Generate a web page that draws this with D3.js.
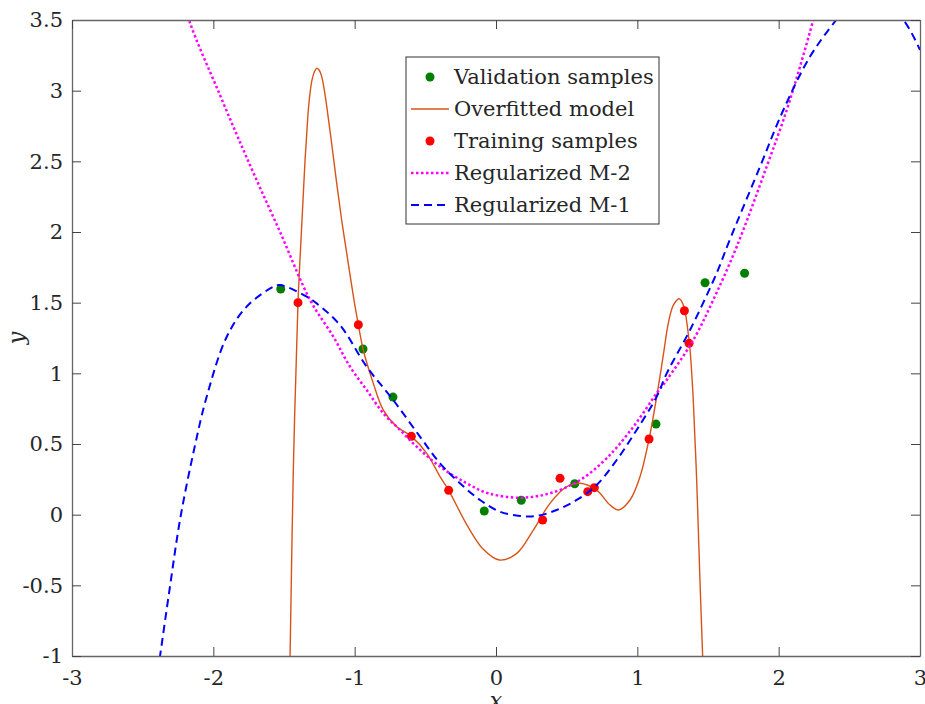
<!DOCTYPE html>
<html>
<head>
<meta charset="utf-8">
<script src="https://cdn.jsdelivr.net/npm/d3@7"></script>
<style>
  body { margin: 0; background: #fff; }
  svg text { font-family: "DejaVu Serif", "Liberation Serif", serif; fill: #262626; }
</style>
</head>
<body>
<svg id="chart" width="925" height="704"></svg>
<script>
// values
const xTicks = [-3, -2, -1, 0, 1, 2, 3];
const yTicks = [-1, -0.5, 0, 0.5, 1, 1.5, 2, 2.5, 3, 3.5];

const valX = [-1.523, -0.941, -0.729, -0.083, 0.179, 0.557, 1.132, 1.479, 1.759];
const valY = [1.597, 1.172, 0.832, 0.026, 0.102, 0.219, 0.641, 1.641, 1.708];

const trainX = [-1.401, -0.974, -0.599, -0.335, 0.330, 0.453, 0.649, 0.696, 1.083, 1.333, 1.366];
const trainY = [1.500, 1.344, 0.554, 0.172, -0.038, 0.257, 0.163, 0.191, 0.535, 1.443, 1.212];

// overfitted model (orange)
const overX = [-1.462, -1.457, -1.434, -1.401, -1.387, -1.375, -1.363, -1.351, -1.339, -1.328, -1.316, -1.302, -1.286,
  -1.269, -1.252, -1.233, -1.215, -1.194, -1.163, -1.127, -1.092, -1.056, -1.005, -0.974, -0.939, -0.868, -0.797,
  -0.702, -0.599, -0.490, -0.396, -0.335, -0.207, -0.090, 0.024, 0.147, 0.264, 0.382, 0.500, 0.594, 0.712, 0.807,
  0.866, 0.948, 1.019, 1.083, 1.137, 1.184, 1.219, 1.255, 1.297, 1.330, 1.354, 1.373, 1.392, 1.408, 1.420, 1.443,
  1.462, 1.466];
const overY = [-1.2, -1.0, 0.316, 1.5, 1.802, 2.037, 2.274, 2.509, 2.698, 2.863, 2.981, 3.075, 3.130,
  3.158, 3.146, 3.099, 3.005, 2.863, 2.628, 2.344, 2.085, 1.849, 1.519, 1.344, 1.165, 0.929, 0.740,
  0.622, 0.554, 0.434, 0.269, 0.172, -0.070, -0.245, -0.321, -0.274, -0.109, 0.080, 0.198, 0.222, 0.174, 0.068,
  0.033, 0.104, 0.269, 0.535, 0.835, 1.13, 1.354, 1.483, 1.528, 1.471, 1.330, 1.165, 0.882, 0.528, 0.245, -0.462,
  -1.0, -1.2];

// regularized M-2 (magenta dotted)
const m2X = [-2.25, -2.172, -1.953, -1.741, -1.528, -1.316, -1.151, -1.033, -0.915, -0.797, -0.679, -0.561, -0.396,
  -0.207, -0.054, 0.170, 0.382, 0.594, 0.783, 0.972, 1.137, 1.208, 1.396, 1.537, 1.703, 1.915, 2.057, 2.151, 2.245, 2.30];
const m2Y = [3.80, 3.5, 2.969, 2.474, 2.0, 1.52, 1.259, 1.047, 0.882, 0.717, 0.599, 0.481, 0.340,
  0.222, 0.151, 0.120, 0.151, 0.245, 0.399, 0.622, 0.859, 0.953, 1.236, 1.519, 1.896, 2.462, 2.863, 3.17, 3.5, 3.7];

// regularized M-1 (blue dashed)
const m1X = [-2.406, -2.377, -2.307, -2.236, -2.142, -2.047, -1.905, -1.764, -1.575, -1.528, -1.339, -1.269, -1.104,
  -0.915, -0.727, -0.538, -0.396, -0.255, -0.113, 0.028, 0.170, 0.288, 0.429, 0.571, 0.712, 0.854, 0.995, 1.137,
  1.208, 1.373, 1.561, 1.644, 1.868, 2.033, 2.222, 2.399, 2.5, 2.62, 2.75, 2.882, 3.0];
const m1Y = [-1.2, -1.0, -0.510, -0.038, 0.434, 0.835, 1.259, 1.472, 1.613, 1.625, 1.542, 1.495, 1.342,
  1.047, 0.811, 0.552, 0.363, 0.222, 0.104, 0.021, -0.009, -0.009, 0.033, 0.104, 0.210, 0.387, 0.599, 0.835,
  1.0, 1.307, 1.708, 1.920, 2.462, 2.863, 3.241, 3.49, 3.61, 3.65, 3.6, 3.5, 3.288];

const legendNames = ["Validation samples", "Overfitted model", "Training samples", "Regularized M-2", "Regularized M-1"];

const margin = {left: 72, top: 20, right: 5, bottom: 48};
const W = 925, H = 704;
const w = W - margin.left - margin.right;
const h = H - margin.top - margin.bottom;

const svg = d3.select("#chart");
const g = svg.append("g").attr("transform", `translate(${margin.left},${margin.top})`);

const x = d3.scaleLinear().domain([-3, 3]).range([0, w]);
const y = d3.scaleLinear().domain([-1, 3.5]).range([h, 0]);

svg.append("defs").append("clipPath").attr("id", "plotclip")
  .append("rect").attr("width", w).attr("height", h);

const zip = (xs, ys) => xs.map((v, i) => [v, ys[i]]);
const line = d3.line().x(d => x(d[0])).y(d => y(d[1])).curve(d3.curveCatmullRom.alpha(0.5));

const plot = g.append("g").attr("clip-path", "url(#plotclip)");

// draw in legend order
plot.selectAll(".val").data(zip(valX, valY)).enter().append("circle")
  .attr("cx", d => x(d[0])).attr("cy", d => y(d[1])).attr("r", 4.5).attr("fill", "#008000");

plot.append("path").datum(zip(overX, overY)).attr("d", line)
  .attr("fill", "none").attr("stroke", "#D95319").attr("stroke-width", 1.4);

plot.selectAll(".train").data(zip(trainX, trainY)).enter().append("circle")
  .attr("cx", d => x(d[0])).attr("cy", d => y(d[1])).attr("r", 4.5).attr("fill", "#ff0000");

plot.append("path").datum(zip(m2X, m2Y)).attr("d", line)
  .attr("fill", "none").attr("stroke", "#ff00ff").attr("stroke-width", 2.5).attr("stroke-dasharray", "2.5,2.5");

plot.append("path").datum(zip(m1X, m1Y)).attr("d", line)
  .attr("fill", "none").attr("stroke", "#0000ff").attr("stroke-width", 2).attr("stroke-dasharray", "8,5");

// axes, ticks pointing inward on all four sides
const fmt = d => String(d);
const axisStyle = sel => {
  sel.select(".domain").attr("stroke", "#666").attr("stroke-width", 1.3);
  sel.selectAll(".tick line").attr("stroke", "#444");
  sel.selectAll(".tick text").attr("font-size", 21).attr("fill", "#262626")
    .attr("font-family", "DejaVu Serif, serif");
};

g.append("g").attr("transform", `translate(0,${h})`)
  .call(d3.axisBottom(x).tickValues(xTicks).tickFormat(fmt).tickSizeInner(-9).tickSizeOuter(0).tickPadding(14))
  .call(axisStyle);
g.append("g")
  .call(d3.axisLeft(y).tickValues(yTicks).tickFormat(fmt).tickSizeInner(-9).tickSizeOuter(0).tickPadding(9))
  .call(axisStyle);
g.append("g")
  .call(d3.axisTop(x).tickValues(xTicks).tickFormat("").tickSizeInner(-9).tickSizeOuter(0))
  .call(axisStyle);
g.append("g").attr("transform", `translate(${w},0)`)
  .call(d3.axisRight(y).tickValues(yTicks).tickFormat("").tickSizeInner(-9).tickSizeOuter(0))
  .call(axisStyle);

// axis titles
svg.append("text").attr("x", margin.left + w / 2).attr("y", 708)
  .attr("text-anchor", "middle").attr("font-size", 22).attr("font-style", "italic").text("x");
svg.append("text").attr("transform", `translate(24,${margin.top + h / 2}) rotate(-90)`)
  .attr("text-anchor", "middle").attr("font-size", 22).attr("font-style", "italic").text("y");

// legend
const leg = svg.append("g").attr("transform", "translate(406,57)");
leg.append("rect").attr("width", 253).attr("height", 167)
  .attr("fill", "#fff").attr("stroke", "#333").attr("stroke-width", 1);

const rowY = i => 20 + i * 32;
const items = leg.selectAll(".item").data(legendNames).enter().append("g")
  .attr("transform", (d, i) => `translate(0,${rowY(i)})`);
items.append("text").attr("x", 48).attr("dy", "0.35em").attr("font-size", 21).text(d => d);

leg.append("circle").attr("cx", 24).attr("cy", rowY(0)).attr("r", 4.5).attr("fill", "#008000");
leg.append("line").attr("x1", 5).attr("x2", 43).attr("y1", rowY(1)).attr("y2", rowY(1))
  .attr("stroke", "#D95319").attr("stroke-width", 1.4);
leg.append("circle").attr("cx", 24).attr("cy", rowY(2)).attr("r", 4.5).attr("fill", "#ff0000");
leg.append("line").attr("x1", 5).attr("x2", 43).attr("y1", rowY(3)).attr("y2", rowY(3))
  .attr("stroke", "#ff00ff").attr("stroke-width", 2.5).attr("stroke-dasharray", "2.5,2.5");
leg.append("line").attr("x1", 5).attr("x2", 43).attr("y1", rowY(4)).attr("y2", rowY(4))
  .attr("stroke", "#0000ff").attr("stroke-width", 2).attr("stroke-dasharray", "8,5");
</script>
</body>
</html>
